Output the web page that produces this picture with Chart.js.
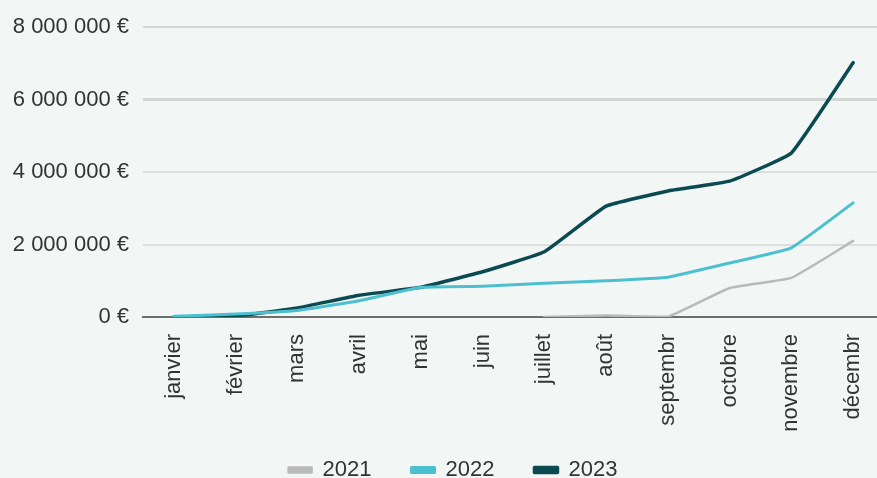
<!DOCTYPE html>
<html>
<head>
<meta charset="utf-8">
<script src="https://cdn.jsdelivr.net/npm/chart.js@4"></script>
<style>
  html, body { margin: 0; padding: 0; background: #f2f6f5; overflow: hidden; }
  #wrap { position: absolute; left: 0; top: 0; width: 906px; height: 478px; }
</style>
</head>
<body>
<div id="wrap"><canvas id="chart"></canvas></div>
<script>
const months = ['janvier', 'février', 'mars', 'avril', 'mai', 'juin', 'juillet', 'août', 'septembr', 'octobre', 'novembre', 'décembr'];
const sales2021 = [null, null, null, null, null, null, 0, 40000, 10000, 800000, 1080000, 2100000];
const sales2022 = [20000, 80000, 180000, 450000, 820000, 850000, 930000, 1000000, 1100000, 1490000, 1910000, 3150000];
const sales2023 = [0, 30000, 250000, 600000, 820000, 1250000, 1800000, 3060000, 3480000, 3750000, 4530000, 7020000];
const yTicks = [0, 2000000, 4000000, 6000000, 8000000];

const font = 'Liberation Sans, Arial, sans-serif';

function euro(v) {
  return String(v).replace(/\B(?=(\d{3})+(?!\d))/g, ' ') + ' €';
}

// nudge the legend so it sits centred under the plot like the original
const legendShift = {
  id: 'legendShift',
  afterLayout(chart) {
    const lg = chart.legend;
    if (!lg) return;
    lg.left += 11; lg.right += 11;
    lg.top -= 14; lg.bottom -= 14;
  }
};

new Chart(document.getElementById('chart'), {
  type: 'line',
  data: {
    labels: months,
    datasets: [
      { label: '2021', data: sales2021, borderColor: '#b9b9b9', backgroundColor: '#b9b9b9', borderWidth: 2.5 },
      { label: '2022', data: sales2022, borderColor: '#4cc0d0', backgroundColor: '#4cc0d0', borderWidth: 3 },
      { label: '2023', data: sales2023, borderColor: '#0c4a52', backgroundColor: '#0c4a52', borderWidth: 3.5 }
    ]
  },
  plugins: [legendShift],
  options: {
    responsive: true,
    maintainAspectRatio: false,
    animation: false,
    layout: { padding: { top: 26, right: 22, bottom: -27, left: 0 } },
    elements: {
      point: { radius: 0 },
      line: { tension: 0.1, borderCapStyle: 'round', borderJoinStyle: 'round' }
    },
    plugins: {
      legend: {
        position: 'bottom',
        labels: {
          boxWidth: 23,
          boxHeight: 5,
          padding: 40,
          color: '#333',
          font: { family: font, size: 22 }
        }
      },
      tooltip: { enabled: false }
    },
    scales: {
      x: {
        offset: true,
        grid: { display: false },
        border: { color: '#6e6e6e', width: 2 },
        ticks: {
          minRotation: 90,
          maxRotation: 90,
          padding: 9,
          color: '#333',
          font: { family: font, size: 22 }
        },
        afterFit(scale) { scale.height = 116; }
      },
      y: {
        min: 0,
        max: 8000000,
        afterBuildTicks(scale) { scale.ticks = yTicks.map(v => ({ value: v })); },
        grid: {
          color: ctx => (ctx.tick && ctx.tick.value >= 6000000 ? '#d2d6d5' : '#dcdfde'),
          lineWidth: ctx => (ctx.tick && ctx.tick.value === 6000000 ? 3 : 2),
          drawTicks: false
        },
        border: { display: false },
        ticks: {
          padding: 14,
          color: '#333',
          font: { family: font, size: 22 },
          callback(value) { return euro(value); }
        },
        afterFit(scale) { scale.width = 143; }
      }
    }
  }
});
</script>
</body>
</html>
